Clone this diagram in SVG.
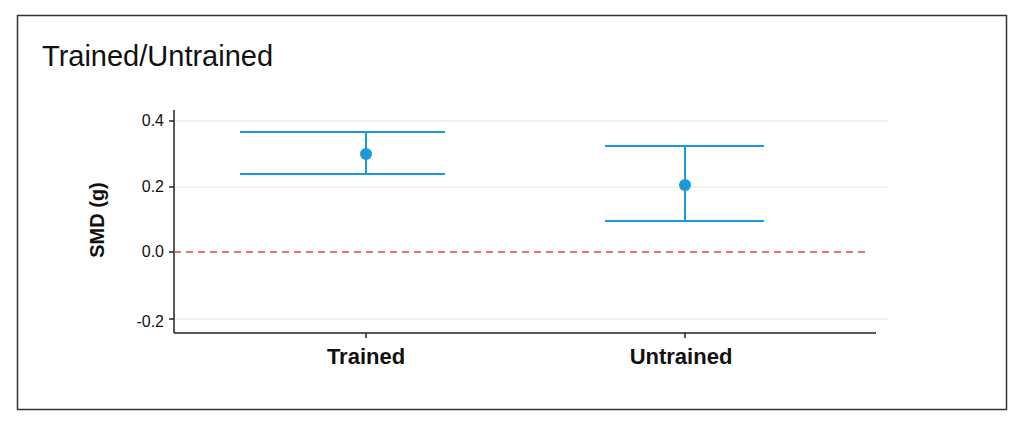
<svg xmlns="http://www.w3.org/2000/svg" width="1024" height="429" viewBox="0 0 1024 429">
<style>
.t{font-family:"Liberation Sans",Arial,sans-serif;fill:#111}
.tick{font-size:16px;text-anchor:end}
.xl{font-size:22px;font-weight:bold;text-anchor:middle}
.eb{stroke:#1a9ad6;stroke-width:2;fill:none}
.grid{stroke:#e6e6e6;stroke-width:1}
</style>
<rect width="1024" height="429" fill="#fff"/>
<rect x="17.5" y="15.5" width="989" height="394" fill="none" stroke="#333" stroke-width="1.5"/>
<text class="t" x="42" y="66" font-size="29">Trained/Untrained</text>
<g id="grid">
<line class="grid" x1="175" y1="121" x2="888" y2="121"/>
<line class="grid" x1="175" y1="187" x2="888" y2="187"/>
<line class="grid" x1="175" y1="319" x2="888" y2="319"/>
</g>
<g id="axes" stroke="#222" stroke-width="1.5">
<line x1="174" y1="110" x2="174" y2="333"/>
<line x1="174" y1="333" x2="876" y2="333"/>
<line x1="169" y1="121" x2="174" y2="121"/>
<line x1="169" y1="187" x2="174" y2="187"/>
<line x1="169" y1="252" x2="174" y2="252"/>
<line x1="169" y1="319" x2="174" y2="319"/>
<line x1="366" y1="333" x2="366" y2="338"/>
<line x1="685" y1="333" x2="685" y2="338"/>
</g>
<g id="ticks">
<text class="t tick" x="164" y="126">0.4</text>
<text class="t tick" x="164" y="192">0.2</text>
<text class="t tick" x="164" y="257">0.0</text>
<text class="t tick" x="164" y="327">-0.2</text>
</g>
<text class="t" transform="translate(104,220) rotate(-90)" font-size="20" font-weight="bold" text-anchor="middle">SMD (g)</text>
<line x1="174" y1="252" x2="868" y2="252" stroke="#e0473c" stroke-width="1.5" stroke-dasharray="7,5"/>
<g id="trained">
<path class="eb" d="M240 132H445M240 174H445M366 132V174"/>
<circle cx="366" cy="154" r="6" fill="#1a9ad6"/>
<text class="t xl" x="366" y="364">Trained</text>
</g>
<g id="untrained">
<path class="eb" d="M605 146H764M605 221H764M685 146V221"/>
<circle cx="685" cy="185" r="6" fill="#1a9ad6"/>
<text class="t xl" x="681" y="364">Untrained</text>
</g>
</svg>
